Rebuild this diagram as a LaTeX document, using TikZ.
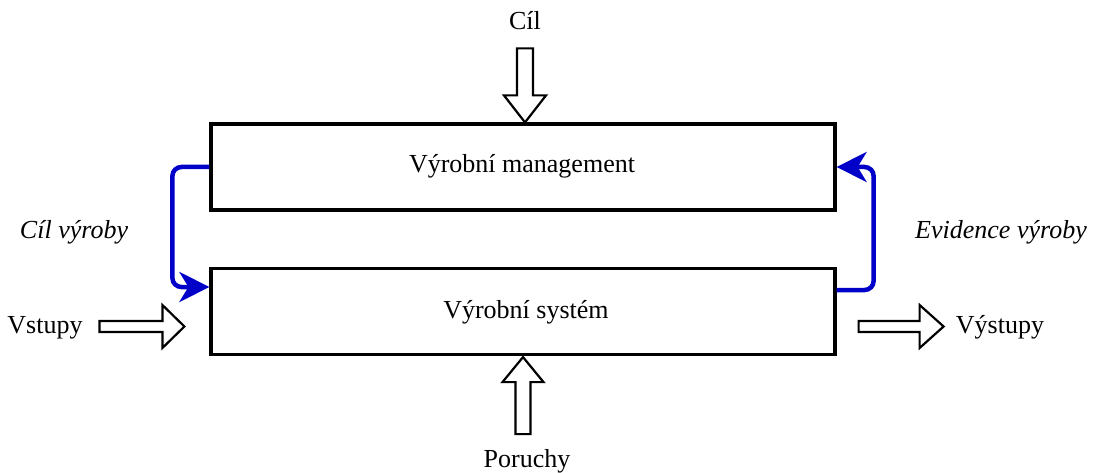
\documentclass[tikz,border=0pt]{standalone}
\usepackage{fontspec}
\setmainfont{Liberation Serif}
\usetikzlibrary{arrows.meta,calc}
\definecolor{flowblue}{RGB}{0,0,200}
\begin{document}
\begin{tikzpicture}[x=1pt,y=-1pt,
  every node/.style={font=\fontsize{26}{30}\selectfont, inner sep=0pt},
  block/.style={draw, line width=3.2pt, minimum width=624pt, minimum height=86pt},
  label/.style={anchor=base},
  flow/.style={draw=flowblue, line width=4.5pt, rounded corners=9pt,
    -{Stealth[length=30pt,width=30pt,inset=9pt]}},
  arrowline/.style={draw, line width=2.2pt, fill=white, line join=miter},
  blk len/.store in=\blklen, blk len=85,
  blk head/.store in=\blkhead, blk head=23,
  blk shaft/.store in=\blkshaft, blk shaft=5.5,
  blk wing/.store in=\blkwing, blk wing=21.5,
  blockarrow/.pic={
    \path[arrowline] (0,0) -- (-\blkhead,\blkwing) -- (-\blkhead,\blkshaft)
      -- (-\blklen,\blkshaft) -- (-\blklen,-\blkshaft) -- (-\blkhead,-\blkshaft)
      -- (-\blkhead,-\blkwing) -- cycle;}
]
\useasboundingbox (0,0) rectangle (1094,473);

% the two main blocks
\node[block] (mgmt) at (523,167) {};
\node[block] (sys)  at (523,311.5) {};
\node[label] (mgmttext) at (522,173) {Výrobní management};
\node[label] (systext)  at (526,318) {Výrobní systém};

% outer inputs and outputs
\node[label] (cil)     at (525,30)  {Cíl};
\node[label] (poruchy) at (527,467) {Poruchy};
\node[label] (vstupy)  at (45,333)  {Vstupy};
\node[label] (vystupy) at (1000,333) {Výstupy};
\node[label,font=\fontsize{26}{30}\selectfont\itshape] (cilvyr) at (74,238) {Cíl výroby};
\node[label,font=\fontsize{26}{30}\selectfont\itshape] (evid) at (1001,238) {Evidence výroby};

% hollow block arrows
\pic[rotate=-90, blk len=74, blk head=27, blk shaft=8, blk wing=21]
  at (cil.base |- mgmt.north) {blockarrow};
\pic[rotate=90, blk len=77, blk head=25, blk shaft=7.5, blk wing=20.5]
  at ($(sys.south)+(0,1)$) {blockarrow};
\pic[blk len=85, blk head=22] at ($(sys.west |- vstupy.base)+(-25,-6.5)$) {blockarrow};
\pic[blk len=85, blk head=24] at ($(sys.east |- vystupy.base)+(107,-6.5)$) {blockarrow};

% feedback loop between the blocks
\draw[flow] (mgmt.west) -- ++(-37,0) |- ($(sys.west)+(0,-24.5)$);
\draw[flow] ($(sys.east)+(0,-21.5)$) -- ++(37,0) |- (mgmt.east);
\end{tikzpicture}
\end{document}
